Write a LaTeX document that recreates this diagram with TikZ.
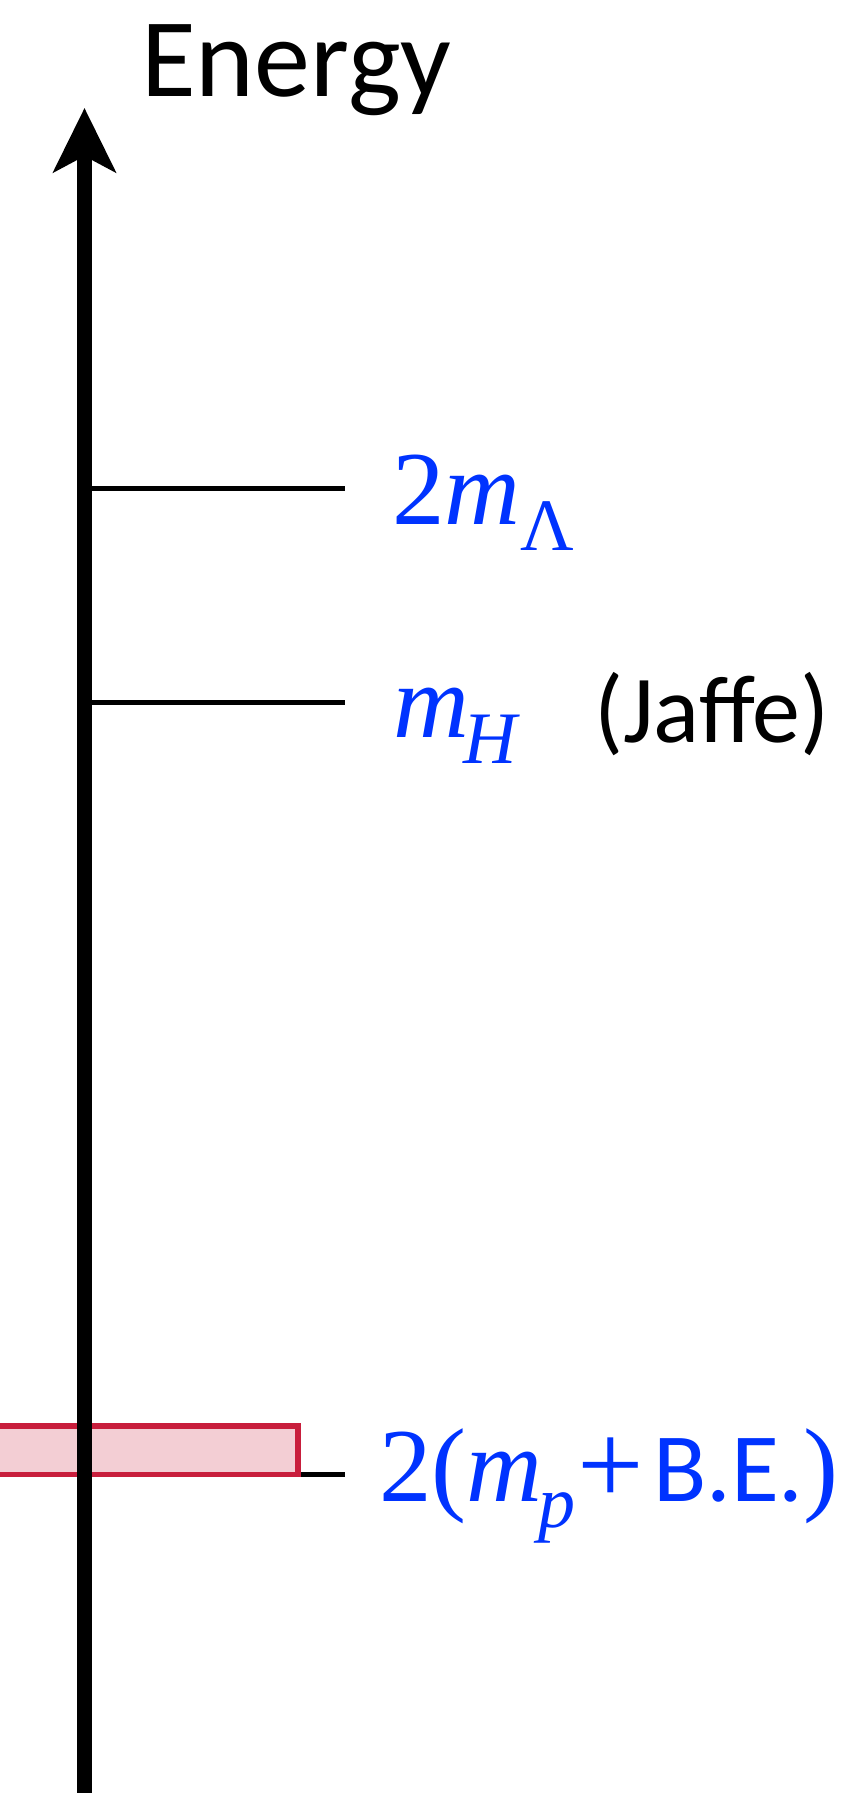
\documentclass[tikz,border=0pt]{standalone}
\usepackage{fontspec}
\setmainfont{Carlito}
\newfontfamily\lblserif{Liberation Serif}
\newfontfamily\lblit{Liberation Serif Italic}
\usetikzlibrary{arrows.meta}
\definecolor{lblblue}{RGB}{0,51,255}
\definecolor{bandred}{RGB}{200,30,60}
\definecolor{bandfill}{RGB}{243,206,212}
\newcommand\subsz{\fontsize{74}{80}\selectfont}
\newcommand\bigsz{\fontsize{105}{120}\selectfont}
\begin{document}
\begin{tikzpicture}[x=1pt,y=-1pt,
  axisline/.style={line width=15pt, -{Stealth[length=64pt,width=62pt,inset=16pt]}},
  levelline/.style={line width=5pt},
  bandbox/.style={draw=bandred, fill=bandfill, line width=5.5pt},
  lbl/.style={inner sep=0pt, anchor=base west, text=lblblue},
  plain/.style={inner sep=0pt, anchor=base west}]
\useasboundingbox (0,0) rectangle (855,1793);
% coordinates
\coordinate (axbot) at (84.5,1800);
\coordinate (axtop) at (84.5,108);
\coordinate (la) at (84.5,488.5);
\coordinate (lb) at (345,488.5);
\coordinate (ha) at (84.5,702);
\coordinate (hb) at (345,702);
\coordinate (pa) at (84.5,1474.5);
\coordinate (pb) at (345,1474.5);
% level lines
\draw[levelline] (la) -- (lb);
\draw[levelline] (ha) -- (hb);
\draw[levelline] (pa) -- (pb);
% band
\draw[bandbox] (-10,1426) rectangle (298,1474.5);
% axis
\draw[axisline] (axbot) -- (axtop);
% labels
\node[plain, font=\fontsize{112}{120}\selectfont] (energy) at (141,96) {Energy};
\node[lbl] (lamb) at (392,524) {\lblserif\bigsz 2{\lblit m}\raisebox{-26pt}{\subsz Λ}};
\node[lbl] (mh) at (393,737) {\lblit\bigsz m\kern-6pt\raisebox{-26pt}{\subsz H}};
\node[plain, font=\fontsize{96}{100}\selectfont] (jaffe) at (594,742) {(Jaffe)};
\node[lbl] (mp) at (379,1501) {\lblserif\bigsz 2({\lblit m}\kern-4pt\raisebox{-26pt}{\lblit\subsz p}\kern2pt\raisebox{-3pt}{\fontsize{118}{120}\selectfont +}\kern9pt{\normalfont\fontsize{98}{100}\selectfont B.E.})};
\end{tikzpicture}
\end{document}
